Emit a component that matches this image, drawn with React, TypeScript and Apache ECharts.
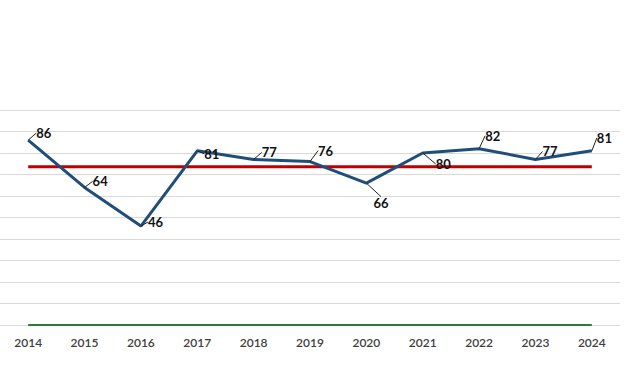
import React, { useEffect, useRef } from "react";
import * as echarts from "echarts";

const years = ["2014", "2015", "2016", "2017", "2018", "2019", "2020", "2021", "2022", "2023", "2024"];
const scores = [86, 64, 46, 81, 77, 76, 66, 80, 82, 77, 81];
const averageValue = 73.6;
const baselineValue = 0;

// label displacement (style only)
const labelShift: [number, number][] = [
  [3, -7], [3, -6], [2, -4], [2, 3], [3, -7], [3, -11], [2, 20], [8, 11], [1, -13], [2, -8], [0, -13],
];

export default function App() {
  const ref = useRef<HTMLDivElement>(null);
  useEffect(() => {
    if (!ref.current) return;
    const chart = echarts.init(ref.current, undefined, { renderer: "svg" });
    const font = "Lato, 'Open Sans', sans-serif";
    chart.setOption({
      animation: false,
      backgroundColor: "#ffffff",
      grid: { left: 0, right: 20, top: 110, bottom: 65, containLabel: false },
      xAxis: {
        type: "category",
        data: years,
        boundaryGap: true,
        axisLine: { show: true, lineStyle: { color: "#d9d9d9", width: 1 } },
        axisTick: { show: false },
        axisLabel: { color: "#404040", fontSize: 12, fontFamily: font, fontWeight: 600, margin: 11 },
        splitLine: { show: false },
      },
      yAxis: {
        type: "value",
        min: 0,
        max: 100,
        interval: 10,
        axisLabel: { show: false },
        axisLine: { show: false },
        axisTick: { show: false },
        splitLine: { show: true, lineStyle: { color: "#d9d9d9", width: 1 } },
      },
      series: [
        {
          name: "baseline",
          type: "line",
          data: years.map(() => baselineValue),
          showSymbol: false,
          lineStyle: { color: "#2e7d32", width: 2 },
          z: 3,
        },
        {
          name: "average",
          type: "line",
          data: years.map(() => averageValue),
          showSymbol: false,
          lineStyle: { color: "#c00000", width: 3 },
          z: 3,
        },
        {
          name: "scores",
          type: "line",
          data: scores,
          showSymbol: true,
          symbol: "circle",
          symbolSize: 0.1,
          itemStyle: { color: "#1f4e79", opacity: 0 },
          lineStyle: { color: "#1f4e79", width: 3 },
          z: 4,
          label: {
            show: true,
            position: "right",
            distance: 5,
            color: "#111",
            fontSize: 13,
            fontWeight: "bold",
            fontFamily: font,
            opacity: 1,
          },
          labelLine: { show: true, lineStyle: { color: "#222", width: 1, opacity: 1 } },
          labelLayout: (p: any) => ({ dx: labelShift[p.dataIndex][0], dy: labelShift[p.dataIndex][1] }),
        },
      ],
    });
    return () => chart.dispose();
  }, []);
  return <div ref={ref} style={{ position: "absolute", left: 0, top: 0, width: 640, height: 390 }} />;
}
